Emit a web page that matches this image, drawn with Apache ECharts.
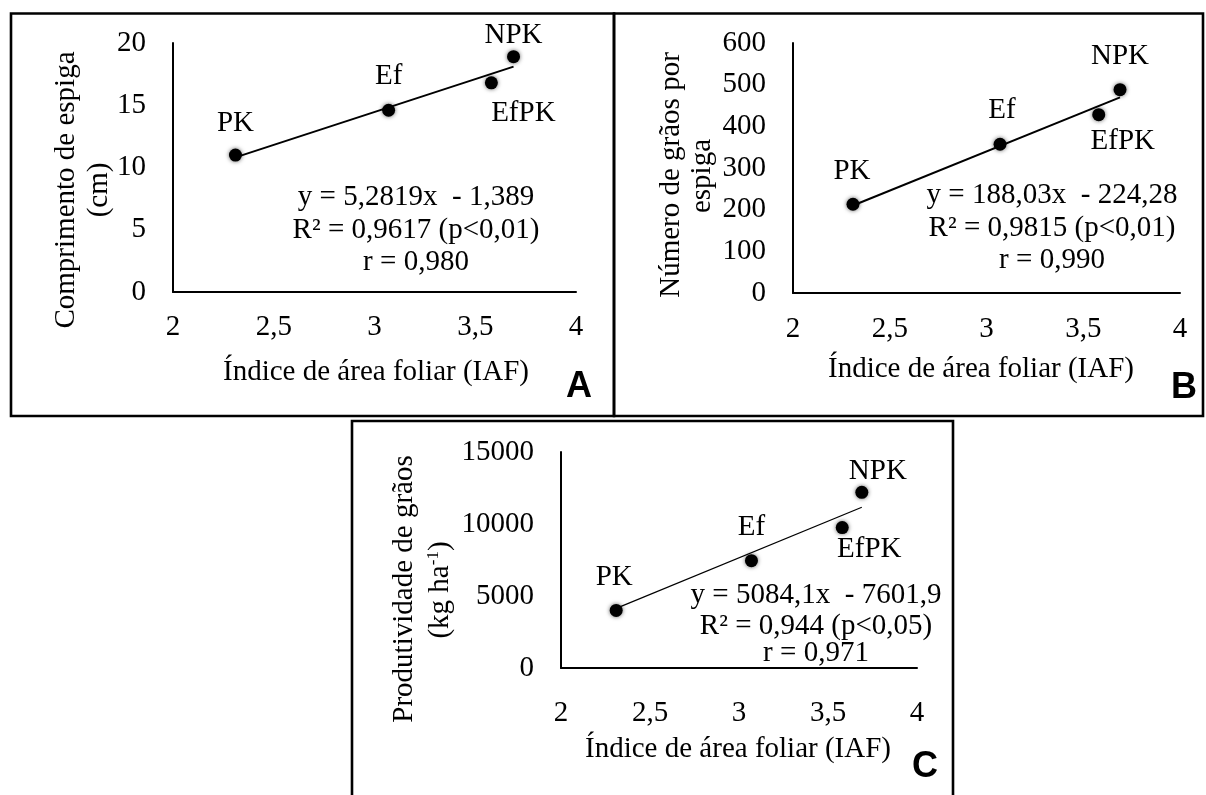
<!DOCTYPE html>
<html>
<head>
<meta charset="utf-8">
<title>IAF x componentes de produção</title>
<script src="https://cdn.jsdelivr.net/npm/echarts@6/dist/echarts.min.js"></script>
<style>
  html, body { margin: 0; padding: 0; background: #ffffff; }
  #chart { width: 1206px; height: 795px; }
</style>
</head>
<body>
<div id="chart"></div>
<script>
// ---- data ----
const treatments = ['PK', 'Ef', 'EfPK', 'NPK'];
const iaf = [2.31, 3.07, 3.58, 3.69];                 // índice de área foliar
const comprimentoEspiga = [11.0, 14.6, 16.8, 18.9];   // cm
const graosPorEspiga = [213, 357, 428, 488];
const produtividade = [4000, 7450, 9750, 12200];      // kg ha-1

const xTicks = [2, 2.5, 3, 3.5, 4];
const yTicksA = [0, 5, 10, 15, 20];
const yTicksB = [0, 100, 200, 300, 400, 500, 600];
const yTicksC = [0, 5000, 10000, 15000];

// linear fits (y = slope * x + intercept)
const fitA = [5.2819, -1.389];
const fitB = [188.03, -224.28];
const fitC = [5084.1, -7601.9];

const statsA = ['y = 5,2819x  - 1,389', 'R² = 0,9617 (p<0,01)', 'r = 0,980'];
const statsB = ['y = 188,03x  - 224,28', 'R² = 0,9815 (p<0,01)', 'r = 0,990'];
const statsC = ['y = 5084,1x  - 7601,9', 'R² = 0,944 (p<0,05)', 'r = 0,971'];

const xTitle = 'Índice de área foliar (IAF)';

// ---- styling ----
const SERIF = "'Liberation Serif', 'Times New Roman', serif";
const SANS = "'Liberation Sans', Arial, sans-serif";
const FS = 29;
const INK = '#000000';

const panels = [
  {
    ys: comprimentoEspiga, yTicks: yTicksA, fit: fitA, stats: statsA,
    grid: { left: 173, top: 43, width: 403, height: 249 },
    xLabelMargin: 21, fitWidth: 2,
    labelOffsets: [[0, -32], [0, -34], [32, 31], [0, -21]],
    statsPos: { x: 416, y: [197, 230, 262] },
    yTitle: [{ text: 'Comprimento de espiga', x: 66, y: 190 }, { text: '(cm)', x: 99, y: 190 }],
    xTitlePos: [376, 372], letter: { text: 'A', x: 579, y: 387 },
    frame: { x: 11, y: 13.5, width: 603, height: 402.5 }
  },
  {
    ys: graosPorEspiga, yTicks: yTicksB, fit: fitB, stats: statsB,
    grid: { left: 793, top: 43, width: 387, height: 250 },
    xLabelMargin: 22, fitWidth: 2,
    labelOffsets: [[-1, -33], [2, -34], [24, 27], [0, -33]],
    statsPos: { x: 1052, y: [195, 228, 260] },
    yTitle: [{ text: 'Número de grãos por', x: 671, y: 175 }, { text: 'espiga', x: 702, y: 176 }],
    xTitlePos: [981, 369], letter: { text: 'B', x: 1184, y: 388 },
    frame: { x: 614, y: 13.5, width: 589, height: 402.5 }
  },
  {
    ys: produtividade, yTicks: yTicksC, fit: fitC, stats: statsC,
    grid: { left: 561, top: 452, width: 356, height: 216 },
    xLabelMargin: 31, fitWidth: 1.2,
    labelOffsets: [[-2, -33], [0, -33], [27, 22], [16, -21]],
    statsPos: { x: 816, y: [595, 626, 653] },
    yTitle: [{ text: 'Produtividade de grãos', x: 404, y: 589 }, { text: '(kg ha{sup|-1})', x: 440, y: 590 }],
    xTitlePos: [738, 749], letter: { text: 'C', x: 925, y: 767 },
    frame: { x: 352, y: 421, width: 601, height: 420 }
  }
];

const comma = v => String(v).replace('.', ',');

const grids = [], xAxes = [], yAxes = [], series = [], graphics = [];

panels.forEach((p, i) => {
  grids.push(Object.assign({ containLabel: false }, p.grid));

  xAxes.push({
    type: 'value', gridIndex: i,
    min: xTicks[0], max: xTicks[xTicks.length - 1], interval: xTicks[1] - xTicks[0],
    axisLine: { show: true, onZero: false, lineStyle: { color: INK, width: 2 } },
    axisTick: { show: false }, splitLine: { show: false },
    axisLabel: { color: INK, fontFamily: SERIF, fontSize: FS, margin: p.xLabelMargin, formatter: comma }
  });

  yAxes.push({
    type: 'value', gridIndex: i,
    min: p.yTicks[0], max: p.yTicks[p.yTicks.length - 1], interval: p.yTicks[1] - p.yTicks[0],
    axisLine: { show: true, onZero: false, lineStyle: { color: INK, width: 2 } },
    axisTick: { show: false }, splitLine: { show: false },
    axisLabel: { color: INK, fontFamily: SERIF, fontSize: FS, margin: 27, formatter: v => String(v) }
  });

  // fitted line across the observed IAF range
  const x0 = Math.min(...iaf), x1 = Math.max(...iaf);
  series.push({
    type: 'line', xAxisIndex: i, yAxisIndex: i, z: 2,
    data: [[x0, p.fit[0] * x0 + p.fit[1]], [x1, p.fit[0] * x1 + p.fit[1]]],
    symbol: 'none', lineStyle: { color: INK, width: p.fitWidth }, silent: true
  });

  series.push({
    type: 'scatter', xAxisIndex: i, yAxisIndex: i, z: 3,
    symbolSize: 13,
    itemStyle: { color: '#000', opacity: 1, shadowBlur: 4, shadowColor: 'rgba(0,0,0,0.6)' },
    label: {
      show: true, position: 'inside', color: INK, fontFamily: SERIF, fontSize: FS,
      textBorderWidth: 0, textShadowBlur: 0, opacity: 1,
      formatter: q => treatments[q.dataIndex]
    },
    data: iaf.map((x, k) => ({ value: [x, p.ys[k]], label: { offset: p.labelOffsets[k] } }))
  });

  // frame around the panel
  graphics.push({
    type: 'rect', shape: p.frame, z: 10, silent: true,
    style: { fill: 'none', stroke: INK, lineWidth: 2.6 }
  });

  // regression statistics
  p.stats.forEach((t, k) => {
    graphics.push({
      type: 'text', x: p.statsPos.x, y: p.statsPos.y[k], z: 10,
      style: { text: t, fill: INK, fontFamily: SERIF, fontSize: FS, align: 'center', verticalAlign: 'middle' }
    });
  });

  // axis titles
  p.yTitle.forEach(line => {
    graphics.push({
      type: 'text', x: line.x, y: line.y, rotation: Math.PI / 2, z: 10,
      style: {
        text: line.text, fill: INK, fontFamily: SERIF, fontSize: FS, align: 'center', verticalAlign: 'middle',
        rich: { sup: { fontFamily: SERIF, fontSize: 17, verticalAlign: 'top', fill: INK } }
      }
    });
  });
  graphics.push({
    type: 'text', x: p.xTitlePos[0], y: p.xTitlePos[1], z: 10,
    style: { text: xTitle, fill: INK, fontFamily: SERIF, fontSize: FS, align: 'center', verticalAlign: 'middle' }
  });

  // panel letter
  graphics.push({
    type: 'text', x: p.letter.x, y: p.letter.y, z: 10,
    style: { text: p.letter.text, fill: INK, fontFamily: SANS, fontWeight: 'bold', fontSize: 36, align: 'center', verticalAlign: 'middle' }
  });
});

const chart = echarts.init(document.getElementById('chart'), null, { renderer: 'canvas' });
chart.setOption({
  animation: false,
  backgroundColor: '#ffffff',
  grid: grids,
  xAxis: xAxes,
  yAxis: yAxes,
  series: series,
  graphic: graphics
});
</script>
</body>
</html>
